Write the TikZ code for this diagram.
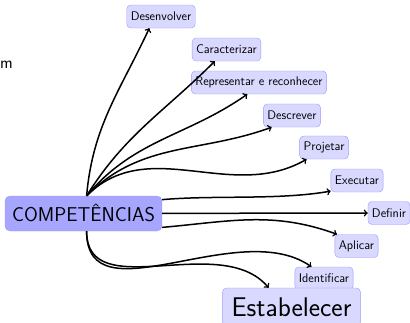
\documentclass[tikz,border=0pt]{standalone}
\usepackage{tikz}
\usetikzlibrary{arrows}

\tikzset{
	verbo/.style={rectangle, rounded corners=4pt, draw=blue!40, fill=blue!15, font=\sffamily\fontsize{12.5}{14}\selectfont, minimum height=23pt, inner xsep=4pt},
	ramo/.style={draw, line width=1.5pt, ->},
}

\begin{document}
\begin{tikzpicture}[x=1pt, y=1pt]
		\useasboundingbox (0,0) rectangle (410,-322);
		\node (resto) [font=\sffamily\fontsize{17}{19}\selectfont, inner sep=0pt] at (6.5,-65) {m};
		\node (comp) [rectangle, rounded corners=5pt, draw=blue!40, fill=blue!35, font=\sffamily\fontsize{20}{22}\selectfont, minimum height=35pt, inner xsep=7pt] at (83.5,-213.5) {COMPETÊNCIAS};

		\node (desen) [verbo] at (161,-16.5) {Desenvolver};
		\node (carac) [verbo] at (226.5,-49.5) {Caracterizar};
		\node (repr) [verbo] at (259,-82.5) {Representar e reconhecer};
		\node (descr) [verbo] at (292,-115.5) {Descrever};
		\node (proj) [verbo] at (324,-147.5) {Projetar};
		\node (exec) [verbo] at (357,-180.5) {Executar};
		\node (defin) [verbo] at (389,-213) {Definir};
		\node (apl) [verbo] at (356.5,-246) {Aplicar};
		\node (ident) [verbo] at (324,-278.5) {Identificar};
		\node (estab) [verbo, font=\sffamily\fontsize{27}{29}\selectfont, minimum height=38pt, inner xsep=9pt] at (291.5,-307) {Estabelecer};

		\path[ramo] (comp.80) to[out=85, in=-115] (desen.-135);
		\path[ramo] (comp.80) to[out=58, in=-135] (carac.-135);
		\path[ramo] (comp.80) to[out=50, in=-145] (repr.-135);
		\path[ramo] (comp.80) to[out=45, in=-160] (descr.-150);
		\path[ramo] (comp.80) to[out=45, in=-150] (proj.-146);
		\path[ramo] (comp.10) to[out=5, in=-170, looseness=0.8] (exec.-158);
		\path[ramo] (comp) -- (defin);
		\path[ramo] (comp.-10) to[out=5, in=160] (apl.149);
		\path[ramo] (comp.-80) to[out=-90, in=145] (ident.137);
		\path[ramo] (comp.-80) to[out=-90, in=130] (estab.140);
\end{tikzpicture}
\end{document}
